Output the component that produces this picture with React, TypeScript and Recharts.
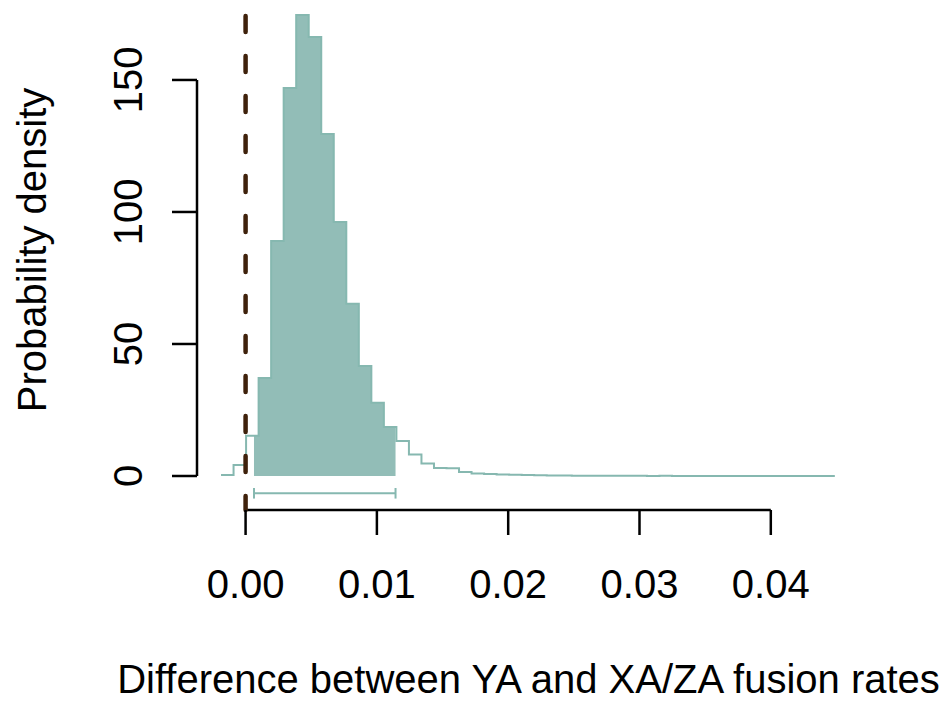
import { Area, ComposedChart, Line, ReferenceLine, XAxis, YAxis } from "recharts"

// histogram of posterior samples: equal-width bins
const binStart = -0.00187
const binWidth = 0.000954
const density = [
  0.4, 4.2, 15.2, 37.1, 89.0, 147.0, 174.6, 166.3, 129.5, 96.2,
  65.2, 41.7, 27.7, 18.6, 13.3, 8.1, 4.7, 3.0, 2.9, 1.5,
  0.9, 0.8, 0.6, 0.45, 0.35, 0.3, 0.2, 0.15, 0.12, 0.1,
  0.08, 0.06, 0.05, 0.07, 0.04, 0.05, 0.03, 0.04, 0.02, 0.03,
  0.02, 0.02, 0.01, 0.02, 0.01, 0.01, 0.01, 0.01, 0.02,
]

// 95% interval
const intervalLow = 0.00064
const intervalHigh = 0.01142

const xTicks = [0, 0.01, 0.02, 0.03, 0.04]
const yTicks = [0, 50, 100, 150]

const xDomain = [-0.0037, 0.046793]
const yDomain = [-12.88, 176.5]

const font = "'Liberation Sans', Arial, sans-serif"
const fontSize = 40
const teal = "#86b8b0"
const tealFill = "#92bdb7"

const stepData = density.map((d, i) => ({ x: binStart + i * binWidth, y: d }))
stepData.push({ x: binStart + density.length * binWidth, y: density[density.length - 1] })

const binOf = (v: number) => Math.floor((v - binStart) / binWidth)
const fillData = [{ x: intervalLow, y: density[binOf(intervalLow)] }]
for (let i = binOf(intervalLow) + 1; i <= binOf(intervalHigh); i++) {
  fillData.push({ x: binStart + i * binWidth, y: density[i] })
}
fillData.push({ x: intervalHigh, y: density[binOf(intervalHigh)] })

function YTick(props: any) {
  const { x, y, payload } = props
  return (
    <text
      x={0}
      y={0}
      transform={`translate(${x},${y}) rotate(-90)`}
      textAnchor="middle"
      fontSize={fontSize}
      fontFamily={font}
      fill="#000"
    >
      {payload.value}
    </text>
  )
}

function YTitle(props: any) {
  const vb = props.viewBox
  return (
    <text
      x={0}
      y={0}
      transform={`translate(${vb.x + 46},250) rotate(-90)`}
      textAnchor="middle"
      fontSize={fontSize}
      fontFamily={font}
      fill="#000"
    >
      Probability density
    </text>
  )
}

function XTitle(props: any) {
  const vb = props.viewBox
  return (
    <text
      x={vb.x + vb.width / 2}
      y={vb.y + 183}
      textAnchor="middle"
      fontSize={fontSize}
      fontFamily={font}
      fill="#000"
    >
      Difference between YA and XA/ZA fusion rates
    </text>
  )
}

export default function App() {
  const yBar = -6.55
  return (
    <div style={{ position: "absolute", left: 0, top: 0, background: "#fff" }}>
      <ComposedChart width={946} height={702} margin={{ top: 10, right: 86, bottom: 0, left: 0 }}>
        <XAxis
          type="number"
          dataKey="x"
          domain={xDomain}
          ticks={xTicks}
          interval={0}
          height={192}
          axisLine={false}
          tickLine={{ stroke: "#000", strokeWidth: 2.5 }}
          tickSize={25}
          tickMargin={35}
          tickFormatter={(v: number) => v.toFixed(2)}
          tick={{ fill: "#000", fontSize: fontSize, fontFamily: font }}
          label={{ content: XTitle }}
        />
        <YAxis
          type="number"
          domain={yDomain}
          ticks={yTicks}
          interval={0}
          width={197}
          axisLine={false}
          tickLine={{ stroke: "#000", strokeWidth: 2.5 }}
          tickSize={25}
          tickMargin={30}
          tick={<YTick />}
          label={{ content: YTitle }}
        />
        <Area
          data={fillData}
          dataKey="y"
          type="stepAfter"
          baseValue={0}
          stroke="none"
          fill={tealFill}
          fillOpacity={1}
          isAnimationActive={false}
          dot={false}
          activeDot={false}
        />
        <Line
          data={stepData}
          dataKey="y"
          type="stepAfter"
          stroke={teal}
          strokeWidth={2}
          dot={false}
          activeDot={false}
          isAnimationActive={false}
        />
        {/* axes drawn R-style, only across the tick range */}
        <ReferenceLine
          segment={[{ x: 0, y: yDomain[0] }, { x: 0.04, y: yDomain[0] }]}
          stroke="#000"
          strokeWidth={2.5}
          ifOverflow="visible"
        />
        <ReferenceLine
          segment={[{ x: xDomain[0], y: 0 }, { x: xDomain[0], y: 150 }]}
          stroke="#000"
          strokeWidth={2.5}
          ifOverflow="visible"
        />
        {/* interval bar */}
        <ReferenceLine
          segment={[{ x: intervalLow, y: yBar }, { x: intervalHigh, y: yBar }]}
          stroke={teal}
          strokeWidth={2}
          ifOverflow="visible"
        />
        <ReferenceLine
          segment={[{ x: intervalLow, y: yBar + 2 }, { x: intervalLow, y: yBar - 2 }]}
          stroke={teal}
          strokeWidth={2}
          ifOverflow="visible"
        />
        <ReferenceLine
          segment={[{ x: intervalHigh, y: yBar + 2 }, { x: intervalHigh, y: yBar - 2 }]}
          stroke={teal}
          strokeWidth={2}
          ifOverflow="visible"
        />
        {/* zero line */}
        <ReferenceLine
          segment={[{ x: 0, y: 174.2 }, { x: 0, y: yDomain[0] }]}
          stroke="#3f210b"
          strokeWidth={4.5}
          strokeDasharray="16 24"
          strokeLinecap="round"
          ifOverflow="visible"
        />
      </ComposedChart>
    </div>
  )
}
